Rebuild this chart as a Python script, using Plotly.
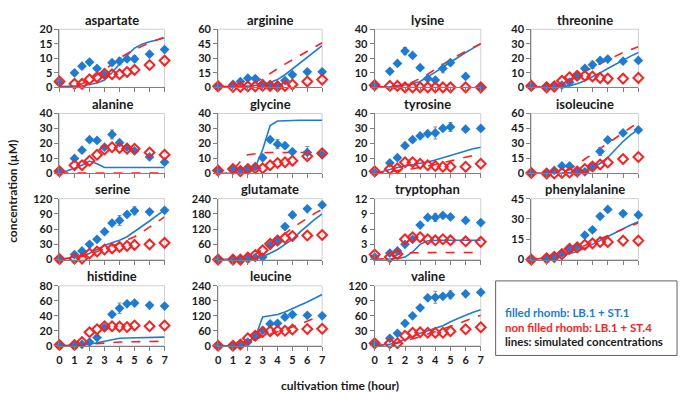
import plotly.graph_objects as go

W, H = 682, 405

# ---------------- data ----------------
T = [0, 1, 1.5, 2, 2.5, 3, 3.5, 4, 4.5, 5, 6, 7]
SIM_T = [0, 0.5, 1, 1.5, 2, 2.5, 3, 3.5, 4, 4.5, 5, 5.5, 6, 6.5, 7]

names = ["aspartate", "arginine", "lysine", "threonine",
         "alanine", "glycine", "tyrosine", "isoleucine",
         "serine", "glutamate", "tryptophan", "phenylalanine",
         "histidine", "leucine", "valine"]
y_max = [20, 60, 40, 40, 40, 40, 40, 60, 120, 240, 12, 45, 80, 240, 120]
y_step = [5, 15, 10, 10, 10, 10, 10, 15, 30, 60, 3, 15, 20, 60, 30]

# measured, LB.1 + ST.1 (filled) / LB.1 + ST.4 (open)
asp_st1 = [1.5, 5, 7.3, 8.7, 6.5, 4.3, 8.5, 9, 9.8, 9.8, 11.4, 13]
asp_st4 = [2, 1.2, 1.2, 2.8, 3.5, 4.7, 4.5, 4.5, 5.3, 6, 7.7, 9.2]
arg_st1 = [1, 3, 6, 9.5, 9, 4, 2, 2, 7, 13, 16, 16]
arg_st4 = [1, 0.5, 0.5, 1, 1, 1.5, 1.5, 1, 1.5, 3, 6, 8]
lys_st1 = [1.5, 11, 16.5, 25, 22, 13.5, 6, 5, 13, 17, 7.5, 0]
lys_st4 = [1.5, 1, 1, 0, 0, 0, 0, 0, 0, 0, 0, 0]
thr_st1 = [1, 0.8, 1.5, 1.5, 3.5, 8, 13, 15.5, 18.5, 19.5, 18, 18.5]
thr_st4 = [1, 0, 0.5, 4.5, 7, 8, 8, 7.5, 6.5, 6, 6, 6.5]
ala_st1 = [1, 10, 15.5, 22.5, 22, 17.5, 26, 20.5, 17.5, 15, 11, 7.5]
ala_st4 = [1.5, 5.5, 5.5, 8.5, 12.5, 16, 17.5, 17, 16.5, 16.5, 14, 12.5]
gly_st1 = [2, 3, 2.5, 3, 4.5, 10.5, 22.5, 19.5, 18.5, 14.5, 14, 12.5]
gly_st4 = [2, 3, 1.5, 3, 3.5, 3.5, 5.5, 7, 7.5, 8.5, 11.5, 13.5]
tyr_st1 = [0.5, 7, 10.5, 18.5, 22.5, 25, 26.5, 27, 30, 31, 29.5, 30]
tyr_st4 = [1.5, 3, 3.5, 7.5, 7.5, 6.5, 5.5, 5, 4.5, 4.5, 4.5, 6.5]
ile_st1 = [0.5, 0.5, 3, 7.5, 7.5, 2, 1.5, 7, 22, 33.5, 40.5, 43.5]
ile_st4 = [0.5, 0, 0, 0.5, 1, 2, 4.5, 7, 9, 11, 14.5, 16.5]
ser_st1 = [1, 10, 17, 30, 40, 55, 72, 77, 89, 96, 94, 97]
ser_st4 = [1, 2, 2, 12, 16, 20, 22, 25, 27, 29, 30, 33]
glu_st1 = [0, 0, 1, 5, 8, 10, 57, 78, 130, 176, 200, 215]
glu_st4 = [0, 0, 0, 8, 18, 37, 62, 75, 85, 93, 95, 97]
trp_st1 = [0.5, 1.3, 1.7, 3, 4, 6.8, 8.3, 8.3, 8.7, 8.4, 7.7, 7.3]
trp_st4 = [1, 0.5, 1.1, 4, 4.4, 4.4, 4, 3.8, 4, 3.8, 3.6, 3.5]
phe_st1 = [0, 1, 2, 5, 8, 10, 18, 22, 32, 37, 34, 33]
phe_st4 = [0, 1, 2, 4, 8, 9, 11, 12, 13, 13, 14, 14]
his_st1 = [0, 0, 2, 5, 11, 24, 42, 50, 56, 57, 54, 53]
his_st4 = [1, 1, 5, 18, 22, 26, 26, 25.5, 25, 27, 26, 27]
leu_st1 = [0, 0, 5, 15, 40, 62, 88, 90, 115, 125, 122, 120]
leu_st4 = [0, 0, 5, 30, 40, 55, 58, 60, 60, 65, 67, 68]
val_st1 = [3, 15, 25, 45, 60, 76, 96, 97, 99, 102, 104, 107]
val_st4 = [5, 5, 5, 20, 26, 27, 26, 26, 26, 29, 33, 37]

# error (ST.1 measurements)
asp_err = [0, 0, 0, 0, 0, 0, 0, 1.2, 0.8, 1, 0, 0]
arg_err = [0, 0, 0, 0, 0, 0, 0, 0, 0, 0, 0, 0]
lys_err = [0, 0, 0, 2.5, 0, 0, 0, 0, 3, 2, 0, 0]
thr_err = [0, 0, 0, 0, 0, 0, 0, 2.5, 0, 0, 0, 0]
ala_err = [0, 0, 0, 0, 0, 0, 3, 2, 0, 0, 0, 0]
gly_err = [0, 0, 0, 0, 0, 2, 0, 3, 0, 0, 4, 0]
tyr_err = [0, 0, 0, 0, 0, 0, 0, 4, 0, 3, 0, 0]
ile_err = [0, 0, 0, 0, 0, 0, 0, 0, 4, 0, 0, 0]
ser_err = [0, 0, 0, 0, 0, 0, 0, 10, 0, 8, 0, 0]
glu_err = [0, 0, 0, 0, 0, 0, 0, 0, 0, 10, 0, 0]
trp_err = [0, 0, 0, 0, 0, 0, 0, 0.8, 0, 0, 0, 0]
phe_err = [0, 0, 0, 0, 0, 0, 0, 0, 0, 0, 0, 0]
his_err = [0, 0, 0, 0, 0, 0, 0, 7, 0, 0, 0, 0]
leu_err = [0, 0, 0, 0, 0, 0, 0, 0, 0, 0, 0, 0]
val_err = [0, 0, 0, 0, 0, 0, 0, 12, 0, 8, 0, 0]

# simulated concentrations on SIM_T
asp_sim1 = [0.3, 0.3, 0.3, 0.5, 1, 1.5, 2.5, 5, 8, 11, 13.5, 14.8, 15.7, 16.4, 17]
asp_sim4 = [0, 0, 0.3, 1.2, 2.5, 4.2, 6, 8, 10, 11.6, 13, 14.2, 15.3, 16.3, 17.3]
arg_sim1 = [0.5, 0.5, 0.5, 0.8, 1.2, 2, 3, 5, 8, 13, 19, 25, 31, 37, 43]
arg_sim4 = [0.5, 0.5, 0.7, 1, 2, 5, 9.5, 14.5, 19.5, 24, 28.5, 33, 37.5, 42, 46]
lys_sim1 = [0, 0, 0.3, 0.8, 1.5, 2.5, 4, 7, 10.5, 14, 17.5, 20.5, 24, 27, 30]
lys_sim4 = [0, 0, 0.5, 1.2, 2, 3.5, 6, 9, 12.5, 16, 19, 22, 25, 27.5, 30]
thr_sim1 = [0, 0, 0, 0.2, 0.5, 1.2, 2.5, 4.5, 7, 10, 13, 16, 19, 21.5, 24]
thr_sim4 = [0, 0, 0.3, 1.2, 3, 5.5, 8, 10.7, 13.5, 16.3, 19, 21.5, 24, 26, 28]
ala_sim1 = [0, 1.5, 3.5, 5.5, 8.3, 6.5, 4, 4, 4, 4, 4, 4, 4, 4, 4]
ala_sim4 = [0.3, 0.3, 0.3, 0.3, 0.3, 0.3, 0.3, 0.3, 0.3, 0.3, 0.3, 0.3, 0.3, 0.3, 0.3]
gly_sim1 = [0, 0, 0, 0.3, 1, 4, 16, 32, 35, 35.3, 35.5, 35.5, 35.5, 35.5, 35.5]
gly_sim4 = [0, 0, 2, 8, 12.5, 13.3, 13.7, 14, 14, 14, 14, 14, 14, 14, 14]
tyr_sim1 = [0, 1.5, 3, 4, 5, 5.8, 6.5, 7.7, 9, 10.5, 12, 13.8, 15.5, 16.5, 17.5]
tyr_sim4 = [0, 0.5, 1, 1.8, 2.5, 3.2, 4, 5, 6, 7.2, 8.5, 9.8, 11, 12, 13]
ile_sim1 = [0, 0, 0, 0.2, 0.5, 1, 2, 3.5, 6, 10, 16, 24, 32, 38.5, 44]
ile_sim4 = [0, 0, 0, 0.3, 1, 4, 9, 14.5, 20, 25, 30, 35.5, 41, 46, 51]
ser_sim1 = [0, 2.5, 5, 8, 12, 20, 28, 33, 38, 45, 55, 65, 76, 87, 98]
ser_sim4 = [0, 1.5, 3, 6, 10, 16, 22, 27, 32, 38, 45, 54, 64, 74, 84]
glu_sim1 = [0, 0, 0, 1, 2, 5, 12, 25, 40, 60, 80, 108, 135, 158, 180]
glu_sim4 = [0, 0, 0, 1, 5, 20, 40, 60, 80, 102, 125, 145, 165, 182, 198]
trp_sim1 = [0, 0, 0.1, 0.2, 0.5, 1.5, 3, 3.7, 3.8, 3.8, 3.8, 3.8, 3.8, 3.8, 3.8]
trp_sim4 = [0, 0.1, 0.3, 1, 1.3, 1.35, 1.4, 1.4, 1.4, 1.4, 1.4, 1.4, 1.4, 1.4, 1.4]
phe_sim1 = [0, 0.5, 1, 2, 3, 4.5, 6, 8.5, 11, 14, 17, 20, 23, 25.5, 28]
phe_sim4 = [0, 0.5, 1, 2.5, 4, 6, 8, 10.5, 13, 15.5, 18, 20.5, 23, 25, 27]
his_sim1 = [0, 0.2, 0.5, 1, 2, 4, 7, 9, 10, 10.3, 10.5, 10.8, 11, 11.3, 11.5]
his_sim4 = [0, 0.2, 0.5, 1, 2, 3, 4, 4.5, 5, 5.3, 5.5, 5.8, 6, 6, 6]
leu_sim1 = [0, 0, 0, 5, 15, 35, 115, 120, 125, 135, 150, 162, 175, 190, 205]
leu_sim4 = [0, 0, 0, 4, 12, 25, 38, 47, 55, 65, 75, 86, 98, 110, 122]
val_sim1 = [0, 1.5, 3, 7, 12, 18, 25, 30, 35, 40, 48, 55, 61, 67, 72]
val_sim4 = [0, 1, 2, 5, 10, 14, 18, 23, 28, 33, 38, 44, 50, 55, 61]

x_ticks = [0, 1, 2, 3, 4, 5, 6, 7]

legend_lines = ["filled rhomb: LB.1 + ST.1",
                "non filled rhomb: LB.1 + ST.4",
                "lines: simulated concentrations"]

panels = [
    (asp_st1, asp_st4, asp_err, asp_sim1, asp_sim4),
    (arg_st1, arg_st4, arg_err, arg_sim1, arg_sim4),
    (lys_st1, lys_st4, lys_err, lys_sim1, lys_sim4),
    (thr_st1, thr_st4, thr_err, thr_sim1, thr_sim4),
    (ala_st1, ala_st4, ala_err, ala_sim1, ala_sim4),
    (gly_st1, gly_st4, gly_err, gly_sim1, gly_sim4),
    (tyr_st1, tyr_st4, tyr_err, tyr_sim1, tyr_sim4),
    (ile_st1, ile_st4, ile_err, ile_sim1, ile_sim4),
    (ser_st1, ser_st4, ser_err, ser_sim1, ser_sim4),
    (glu_st1, glu_st4, glu_err, glu_sim1, glu_sim4),
    (trp_st1, trp_st4, trp_err, trp_sim1, trp_sim4),
    (phe_st1, phe_st4, phe_err, phe_sim1, phe_sim4),
    (his_st1, his_st4, his_err, his_sim1, his_sim4),
    (leu_st1, leu_st4, leu_err, leu_sim1, leu_sim4),
    (val_st1, val_st4, val_err, val_sim1, val_sim4),
]

# ---------------- styling / layout ----------------
BLUE = "#1C7CD5"
RED = "#FF1E1E"
FONT = "Lato"
TXT = "#1a1a1a"

col_px = [(57, 163), (217, 322), (375, 482), (533, 641)]
row_px = [(23, 83), (110, 172), (198, 261), (288, 350)]

fig = go.Figure()
layout = dict(
    width=W, height=H, margin=dict(l=0, r=0, t=0, b=0),
    paper_bgcolor="white", plot_bgcolor="white", showlegend=False,
    font=dict(family=FONT, color=TXT),
)
annotations = []
shapes = []

for i, (name, ymax, ystep, (s1, s4, err, sim1, sim4)) in enumerate(zip(names, y_max, y_step, panels)):
    r, c = divmod(i, 4)
    n = i + 1
    xa = "x" if n == 1 else f"x{n}"
    ya = "y" if n == 1 else f"y{n}"
    x0, x1 = col_px[c]
    yt, yb = row_px[r]
    layout[f"xaxis{n if n > 1 else ''}"] = dict(
        domain=[x0 / W, x1 / W], anchor=ya, range=[0, 7],
        tickvals=x_ticks, showticklabels=(r == 3),
        ticks="outside", ticklen=4, tickcolor="#808080",
        showline=True, linecolor="#808080", linewidth=1,
        showgrid=False, zeroline=False, fixedrange=True,
        tickfont=dict(family=FONT, size=11, color=TXT, weight="bold"),
    )
    layout[f"yaxis{n if n > 1 else ''}"] = dict(
        domain=[1 - yb / H, 1 - yt / H], anchor=xa, range=[0, ymax],
        dtick=ystep, tick0=0,
        ticks="outside", ticklen=4, tickcolor="#808080",
        showline=True, linecolor="#808080", linewidth=1,
        showgrid=False, zeroline=False, fixedrange=True,
        tickfont=dict(family=FONT, size=11, color=TXT, weight="bold"),
    )
    shapes.append(dict(type="rect", xref=f"{xa} domain", yref=f"{ya} domain",
                       x0=0, x1=1, y0=0, y1=1, line=dict(color="#D0D0D0", width=1),
                       layer="below"))
    annotations.append(dict(text=f"<b>{name}</b>", x=(x0 + x1) / 2 / W, y=1 - (yt - 10) / H,
                            xref="paper", yref="paper", showarrow=False,
                            xanchor="center", yanchor="middle",
                            font=dict(family=FONT, size=13, color=TXT)))
    fig.add_trace(go.Scatter(x=SIM_T, y=sim1, mode="lines", xaxis=xa, yaxis=ya,
                             line=dict(color=BLUE, width=1.6), cliponaxis=False))
    fig.add_trace(go.Scatter(x=SIM_T, y=sim4, mode="lines", xaxis=xa, yaxis=ya,
                             line=dict(color=RED, width=1.6, dash="dash"), cliponaxis=False))
    fig.add_trace(go.Scatter(x=T, y=s1, mode="markers", xaxis=xa, yaxis=ya,
                             marker=dict(symbol="diamond", size=7.5, color=BLUE),
                             error_y=dict(type="data", array=err, visible=True,
                                          color="#8c8c8c", thickness=1, width=2),
                             cliponaxis=False))
    fig.add_trace(go.Scatter(x=T, y=s4, mode="markers", xaxis=xa, yaxis=ya,
                             marker=dict(symbol="diamond-open", size=7.5, color=RED,
                                         line=dict(color=RED, width=2)),
                             cliponaxis=False))

# axis titles
annotations.append(dict(text="<b>concentration (µM)</b>", x=10 / W, y=1 - 190 / H,
                        xref="paper", yref="paper", showarrow=False, textangle=-90,
                        xanchor="center", yanchor="middle",
                        font=dict(family=FONT, size=12, color=TXT)))
annotations.append(dict(text="<b>cultivation time (hour)</b>", x=340 / W, y=1 - 391 / H,
                        xref="paper", yref="paper", showarrow=False,
                        xanchor="center", yanchor="middle",
                        font=dict(family=FONT, size=12, color=TXT)))

# legend box
shapes.append(dict(type="rect", xref="paper", yref="paper",
                   x0=497 / W, x1=680 / W, y0=1 - 360 / H, y1=1 - 283 / H,
                   line=dict(color="#606060", width=1), fillcolor="white"))
for k, (txt, col) in enumerate(zip(legend_lines, [BLUE, RED, TXT])):
    annotations.append(dict(text=f"<b>{txt}</b>", x=504 / W, y=1 - (316 + 15 * k) / H,
                            xref="paper", yref="paper", xanchor="left", yanchor="middle",
                            showarrow=False,
                            font=dict(family=FONT, size=11.5, color=col)))

layout["annotations"] = annotations
layout["shapes"] = shapes
fig.update_layout(**layout)
fig.write_html("out.html", config={"displayModeBar": False},
               post_script="document.body.style.margin='0';document.body.style.overflow='hidden';")
